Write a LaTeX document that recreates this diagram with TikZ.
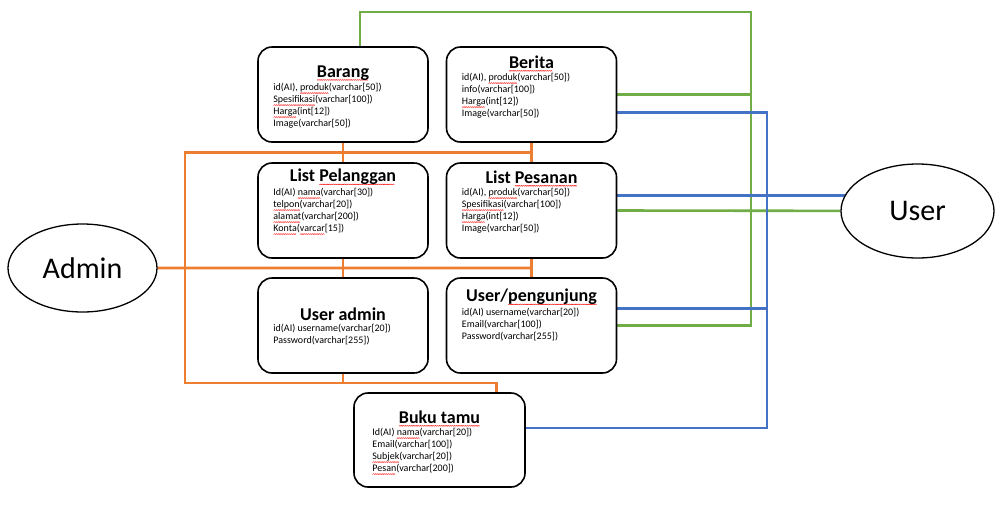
\documentclass[tikz,border=0pt]{standalone}
\usepackage{fontspec}
\usepackage{graphicx}
\setmainfont{Carlito}
\usetikzlibrary{calc,positioning,shapes.geometric,backgrounds}
\definecolor{orange}{HTML}{ED7D31}
\definecolor{green}{HTML}{70AD47}
\definecolor{blue}{HTML}{4472C4}
\newsavebox\sqbox
\newcommand\zz{\hbox{\rotatebox{45}{\rule{1.3pt}{.45pt}}\kern-.3pt\raisebox{.92pt}{\rotatebox{-45}{\rule{1.3pt}{.45pt}}}\kern-.3pt}}
\newcommand\sq[1]{\sbox\sqbox{#1}\rlap{\raisebox{-3pt}[0pt][0pt]{\color{red}\hbox to \wd\sqbox{\leaders\zz\hfill}}}\usebox\sqbox}
\tikzset{
  tbl/.style={draw,line width=1.6pt,rounded corners=14pt,minimum width=170pt,minimum height=95pt,inner sep=0pt},
  ttl/.style={font=\fontsize{18}{20}\selectfont\bfseries,inner sep=0pt},
  fld/.style={font=\fontsize{10}{12}\selectfont,align=left,inner sep=0pt,anchor=north west},
  actor/.style={draw,ellipse,line width=1.3pt,fill=white,inner sep=0pt,font=\fontsize{30}{32}\selectfont},
  oline/.style={orange,line width=2.6pt},
  gline/.style={green,line width=2.6pt},
  bline/.style={blue,line width=2.6pt}
}
\begin{document}
\begin{tikzpicture}[x=1pt,y=-1pt]
\useasboundingbox (0,0) rectangle (998,504);
% tables
\node[tbl] (barang) at (343,94.5) {};
\node[tbl] (berita) at (531.5,94.5) {};
\node[tbl] (pelanggan) at (343,210.5) {};
\node[tbl] (pesanan) at (531.5,210.5) {};
\node[tbl] (uadmin) at (343,325.5) {};
\node[tbl] (peng) at (531.5,325.5) {};
\node[tbl,minimum width=171pt,minimum height=94pt] (tamu) at (439.5,440) {};
% titles
\node[ttl] at ($(barang.north)+(0,27)$) {\sq{Barang}};
\node[ttl] at ($(berita.north)+(0,16)$) {\sq{Berita}};
\node[ttl] at ($(pelanggan.north)+(0,15)$) {List \sq{Pelanggan}};
\node[ttl] at ($(pesanan.north)+(0,15)$) {List \sq{Pesanan}};
\node[ttl] at ($(uadmin.north)+(0,37)$) {User admin};
\node[ttl] at ($(peng.north)+(0,20)$) {User/\sq{pengunjung}};
\node[ttl] at ($(tamu.north)+(0,25)$) {\sq{Buku tamu}};
% fields
\node[fld] at ($(barang.north west)+(16,37)$) {id(AI), \sq{produk}(varchar[50])\\\sq{Spesifikasi}(varchar[100])\\\sq{Harga}(int[12])\\Image(varchar[50])};
\node[fld] at ($(berita.north west)+(16,27)$) {id(AI), \sq{produk}(varchar[50])\\info(varchar[100])\\\sq{Harga}(int[12])\\Image(varchar[50])};
\node[fld] at ($(pelanggan.north west)+(16,26)$) {Id(AI) \sq{nama}(varchar[30])\\\sq{telpon}(varchar[20])\\\sq{alamat}(varchar[200])\\\sq{Konta}(\sq{varcar}[15])};
\node[fld] at ($(pesanan.north west)+(16,26)$) {id(AI), \sq{produk}(varchar[50])\\\sq{Spesifikasi}(varchar[100])\\\sq{Harga}(int[12])\\Image(varchar[50])};
\node[fld] at ($(uadmin.north west)+(16,47)$) {id(AI) username(varchar[20])\\Password(varchar[255])};
\node[fld] at ($(peng.north west)+(16,31)$) {id(AI) username(varchar[20])\\Email(varchar[100])\\Password(varchar[255])};
\node[fld] at ($(tamu.north west)+(19,36)$) {Id(AI) \sq{nama}(varchar[20])\\Email(varchar[100])\\\sq{Subjek}(varchar[20])\\\sq{Pesan}(varchar[200])};
% actors
\node[actor,minimum width=149pt,minimum height=88pt] (admin) at (82.5,268) {Admin};
\node[actor,minimum width=153pt,minimum height=94pt] (user) at (917.5,211) {User};
% connectors
\begin{scope}[on background layer]
\coordinate (oL) at (185,0);
\coordinate (o1) at ($(berita.south)!0.5!(pesanan.north)$);
\coordinate (o2) at ($(pesanan.south)!0.5!(peng.north)$);
\coordinate (o3) at ($(uadmin.south)!0.5!(tamu.north)$);
\coordinate (oT) at ([xshift=57pt]tamu.north);
\draw[oline] (barang.south) -- (pelanggan.north);
\draw[oline] (berita.south) -- (pesanan.north);
\draw[oline] (pelanggan.south) -- (uadmin.north);
\draw[oline] (pesanan.south) -- (peng.north);
\draw[oline] (uadmin.south) -- (uadmin.south |- o3);
\draw[oline] (o1) -- (o1 -| oL) -- (o3 -| oL) -| (oT);
\draw[oline] (admin.east) -- (o2);
\coordinate (gX) at (751,12);
\coordinate (gB) at ([xshift=17pt]barang.north);
\draw[gline] (gB) |- (gX) -- (gX |- peng.east) -- (peng.east);
\draw[gline] (berita.east) -- (berita.east -| gX);
\draw[gline] (pesanan.east) -- (user);
\coordinate (bX) at (767,0);
\coordinate (bB) at ([yshift=-18pt]berita.east);
\coordinate (bP) at ([yshift=15pt]pesanan.east);
\coordinate (bU) at ([yshift=17pt]peng.east);
\coordinate (bT) at ([yshift=12pt]tamu.east);
\draw[bline] (bB) -- (bB -| bX) -- (bT -| bX) -- (bT);
\draw[bline] (bU) -- (bU -| bX);
\draw[bline] (bP) -- (bP -| user);
\end{scope}
\end{tikzpicture}
\end{document}
